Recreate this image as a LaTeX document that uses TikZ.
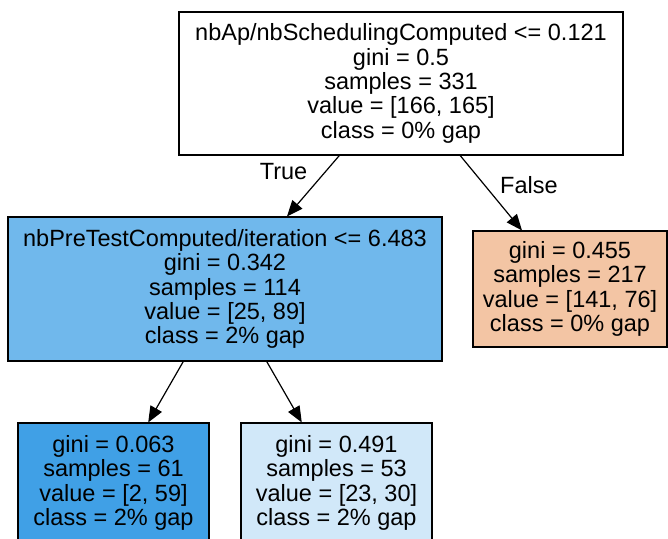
\documentclass[tikz,border=0pt]{standalone}
\usepackage{fontspec}
\setmainfont{Liberation Sans}
\usetikzlibrary{arrows.meta}
\definecolor{bluemid}{HTML}{70B8EC}
\definecolor{bluedeep}{HTML}{40A0E6}
\definecolor{bluepale}{HTML}{D1E8F9}
\definecolor{orangepale}{HTML}{F3C5A4}
\tikzset{
  split/.style={draw, line width=1.1pt, align=center, inner sep=0pt},
  leaf/.style={split, minimum width=191pt, minimum height=116pt},
}
\begin{document}
\begin{tikzpicture}[x=1pt,y=-1pt
                   ,font=\fontsize{23.5}{24.4}\selectfont]
\useasboundingbox (0,0) rectangle (668,538);
\node[split, minimum width=444pt, minimum height=143pt] (root) at (401,83.5)
  {nbAp/nbSchedulingComputed <= 0.121\\gini = 0.5\\samples = 331\\value = [166, 165]\\class = 0\% gap};
\node[split, fill=bluemid, minimum width=434pt, minimum height=144pt] (left) at (225,289)
  {nbPreTestComputed/iteration <= 6.483\\gini = 0.342\\samples = 114\\value = [25, 89]\\class = 2\% gap};
\node[leaf, fill=orangepale, minimum width=194pt] (right) at (570,289)
  {gini = 0.455\\samples = 217\\value = [141, 76]\\class = 0\% gap};
\node[leaf, fill=bluedeep, minimum height=120pt] (leftleft) at (113.5,483)
  {gini = 0.063\\samples = 61\\value = [2, 59]\\class = 2\% gap};
\node[leaf, fill=bluepale, minimum height=120pt] (leftright) at (336.5,483)
  {gini = 0.491\\samples = 53\\value = [23, 30]\\class = 2\% gap};
  \path[-{Triangle[length=16pt,width=13pt]}, line width=1.2pt]
    (root) edge node [pos=0.27, left=14pt] {True} (left)
    (root) edge node [pos=0.39, right=12pt] {False} (right)
    (left) edge (leftleft)
    (left) edge (leftright)
    ;
\end{tikzpicture}
\end{document}
